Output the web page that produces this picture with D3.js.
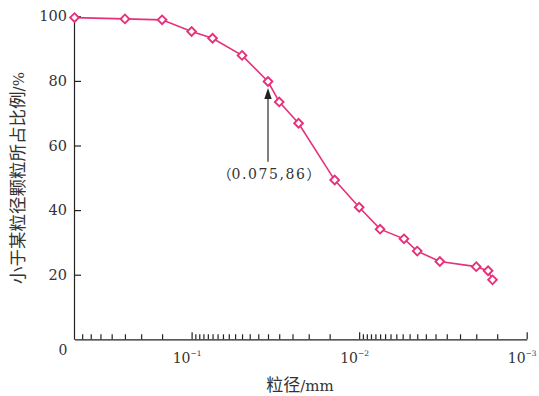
<!DOCTYPE html>
<html><head><meta charset="utf-8">
<script src="https://cdn.jsdelivr.net/npm/d3@7"></script>
<style>
html,body{margin:0;padding:0;background:#fff;}
svg{display:block;}
</style>
</head><body>
<script>
// ---- data ----
const sizes   = [0.5, 0.25, 0.15, 0.1, 0.075, 0.05, 0.035, 0.03, 0.023, 0.014, 0.01, 0.0075, 0.0054, 0.0045, 0.0033, 0.002, 0.0017, 0.0016];
const passing = [99.6, 99.2, 98.9, 95.3, 93.2, 87.9, 79.8, 73.5, 66.9, 49.3, 40.9, 34.1, 31.1, 27.3, 24.1, 22.5, 21.2, 18.4];
const xMajorTicks = [0.1, 0.01, 0.001];
const xMajorExps = ["−1", "−2", "−3"];
const xZeroLabel = "0";
const yTicks = [20, 40, 60, 80, 100];
const xTitleMain = "粒径", xTitleUnit = "/mm";
const yTitleMain = "小于某粒径颗粒所占比例", yTitleUnit = "/%";
const annotParts = ["（", "0.075,86", "）"];
const annotIndex = 6;
const annotTailValue = 55;

// minor ticks every 0.5 x 10^k
const xMinorTicks = [];
[0.1, 0.01, 0.001].forEach(base => {
  for (let m = 1.5; m <= 9.5; m += 0.5) {
    const v = +(m * base).toPrecision(4);
    if (v < 0.5) xMinorTicks.push(v);
  }
});

const W = 539, H = 396;
const svg = d3.select("body").append("svg").attr("width", W).attr("height", H);
svg.append("rect").attr("width", W).attr("height", H).attr("fill", "#fff");

const x = d3.scaleLog().domain([0.5, 0.001]).range([74.5, 526.7]);
const y = d3.scaleLinear().domain([0, 100]).range([339.3, 16.3]);

const serif = "'DejaVu Serif','Liberation Serif',serif";
const cjk = "'Noto Sans CJK SC',sans-serif";
const axisColor = "#222";
const textColor = "#333";
const pink = "#e6307a";

// x axis minor
const gxMinor = svg.append("g").attr("transform", `translate(0,${y(0)})`)
  .call(d3.axisBottom(x).tickValues(xMinorTicks).tickSizeInner(-5).tickSizeOuter(0).tickFormat(() => ""));
// x axis major
const gxMajor = svg.append("g").attr("transform", `translate(0,${y(0)})`)
  .call(d3.axisBottom(x).tickValues(xMajorTicks).tickSizeInner(-7).tickSizeOuter(0).tickPadding(10).tickFormat(() => ""));
gxMajor.select(".domain").remove();
[gxMinor, gxMajor].forEach(g => {
  g.selectAll("path,line").attr("stroke", axisColor).attr("stroke-width", 1.2);
});
gxMajor.selectAll(".tick text").each(function(d, i) {
  const t = d3.select(this)
    .attr("font-family", serif).attr("font-size", 14).attr("fill", textColor)
    .attr("dy", "0.95em").attr("dx", -5);
  t.append("tspan").text("10");
  t.append("tspan").text(xMajorExps[i]).attr("font-size", 7.5).attr("dy", "-0.9em");
});
svg.append("text").attr("x", 63).attr("y", 355)
  .attr("text-anchor", "middle").attr("font-family", serif).attr("font-size", 14).attr("fill", textColor)
  .text(xZeroLabel);

// y axis
const gy = svg.append("g").attr("transform", `translate(${x(0.5) - 0.5},0)`)
  .call(d3.axisLeft(y).tickValues(yTicks).tickSizeInner(-7).tickSizeOuter(0).tickPadding(7));
gy.selectAll("path,line").attr("stroke", axisColor).attr("stroke-width", 1.2);
gy.selectAll(".tick text").attr("font-family", serif).attr("font-size", 14.5).attr("fill", textColor);

// titles
const xt = svg.append("text").attr("x", 300).attr("y", 391).attr("text-anchor", "middle")
  .attr("font-size", 17).attr("fill", textColor);
xt.append("tspan").attr("font-family", cjk).text(xTitleMain);
xt.append("tspan").attr("font-family", serif).attr("font-size", 15).text(xTitleUnit);
const yt = svg.append("text").attr("transform", `translate(24,178) rotate(-90)`).attr("text-anchor", "middle")
  .attr("font-size", 17.5).attr("fill", textColor);
yt.append("tspan").attr("font-family", cjk).text(yTitleMain);
yt.append("tspan").attr("font-family", serif).attr("font-size", 15).text(yTitleUnit);

// line
const line = d3.line().x((d, i) => x(sizes[i])).y(d => y(d));
svg.append("path").datum(passing).attr("d", line)
  .attr("fill", "none").attr("stroke", pink).attr("stroke-width", 1.6);

// markers (diamonds)
const sym = d3.symbol().type(d3.symbolSquare).size(38);
svg.append("g").selectAll("path").data(passing).join("path")
  .attr("d", sym)
  .attr("transform", (d, i) => `translate(${x(sizes[i])},${y(d)}) rotate(45)`)
  .attr("fill", "#fff").attr("stroke", pink).attr("stroke-width", 1.9);

// annotation arrow
const ax = x(sizes[annotIndex]);
const tipY = y(passing[annotIndex]) + 6.5;
const tailY = y(annotTailValue);
svg.append("line").attr("x1", ax).attr("x2", ax).attr("y1", tailY).attr("y2", tipY + 10)
  .attr("stroke", "#555").attr("stroke-width", 1.5);
svg.append("path").attr("d", `M${ax},${tipY} L${ax - 3.7},${tipY + 11} L${ax + 3.7},${tipY + 11} Z`)
  .attr("fill", "#222");
const at = svg.append("text").attr("x", ax + 1).attr("y", tailY + 17).attr("text-anchor", "middle")
  .attr("font-size", 14).attr("fill", textColor);
at.append("tspan").attr("font-family", cjk).text(annotParts[0]);
at.append("tspan").attr("font-family", serif).attr("letter-spacing", 1.6).text(annotParts[1]);
at.append("tspan").attr("font-family", cjk).text(annotParts[2]);
</script>
</body></html>
